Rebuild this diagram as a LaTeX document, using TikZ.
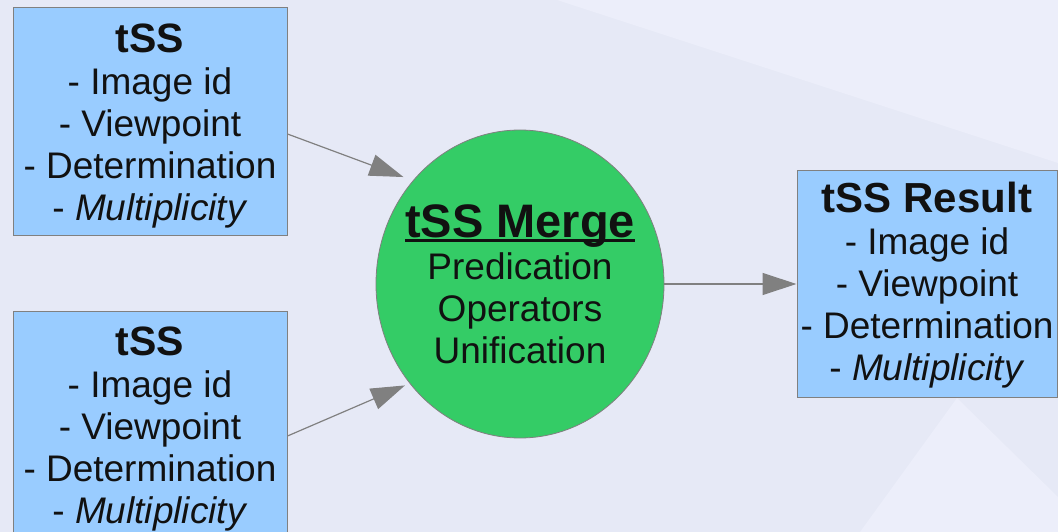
\documentclass[tikz,border=0pt]{standalone}
\usepackage{fontspec}
\setmainfont{Liberation Sans}
\usetikzlibrary{arrows.meta,shapes.geometric}
\definecolor{boxblue}{RGB}{153,204,255}
\definecolor{mergegreen}{RGB}{52,204,102}
\definecolor{edgegray}{RGB}{128,128,128}
\definecolor{bgbase}{RGB}{230,233,246}
\definecolor{bglight}{RGB}{236,238,250}
\definecolor{txt}{RGB}{17,17,17}
\newcommand\thickul[1]{\setbox0\hbox{#1}\rlap{\rule[-4.5pt]{\wd0}{2.8pt}}\box0}
\begin{document}
\begin{tikzpicture}[x=1pt,y=-1pt,
  infobox/.style={draw=edgegray, line width=1pt, fill=boxblue, minimum width=274pt,
    minimum height=227pt, inner sep=0pt, align=center, text=txt,
    font=\fontsize{37}{42}\selectfont},
  mergenode/.style={ellipse, draw=edgegray, line width=0.8pt, fill=mergegreen,
    minimum width=288pt, minimum height=308pt, inner sep=0pt},
  mergetext/.style={inner sep=0pt, align=center, text=txt,
    font=\fontsize{37}{42}\selectfont},
  link/.style={draw=edgegray, line width=1.2pt, -{Triangle[length=34pt,width=22pt]}}
]
\fill[bgbase] (0,0) rectangle (1058,532);
\useasboundingbox (0,0) rectangle (1058,532);
\fill[bglight] (557,0) -- (1058,0) -- (1058,163) -- cycle;
\fill[bglight] (957,398) -- (860,532) -- (1058,532) -- (1058,497) -- cycle;

\node[infobox] (b1) at (150,121.5) {\rule{0pt}{37pt}{\fontsize{41}{42}\selectfont\bfseries tSS}\\- Image id\\- Viewpoint\\- Determination\\- \textit{Multiplicity}};
\node[infobox] (b2) at (150,424.5) {\rule{0pt}{37pt}{\fontsize{41}{42}\selectfont\bfseries tSS}\\- Image id\\- Viewpoint\\- Determination\\- \textit{Multiplicity}};
\node[infobox, minimum width=260pt, minimum height=226pt] (r) at (927,284) {\rule{0pt}{33pt}{\fontsize{42}{42}\selectfont\bfseries tSS Result}\\- Image id\\- Viewpoint\\- Determination\\- \textit{Multiplicity}};
\node[mergenode] (m) at (520,284) {};
\node[mergetext] (mt) at (m.center) {{\fontsize{47}{44}\selectfont\bfseries\thickul{tSS Merge}}\\Predication\\Operators\\Unification};

\draw[link, shorten >=10pt] ([yshift=-12.5pt]b1.east) -- (m.136);
\draw[link, shorten >=5pt] ([yshift=-11.5pt]b2.east) -- (m.222);
\draw[link] (m.east) -- (r.west);
\end{tikzpicture}
\end{document}
